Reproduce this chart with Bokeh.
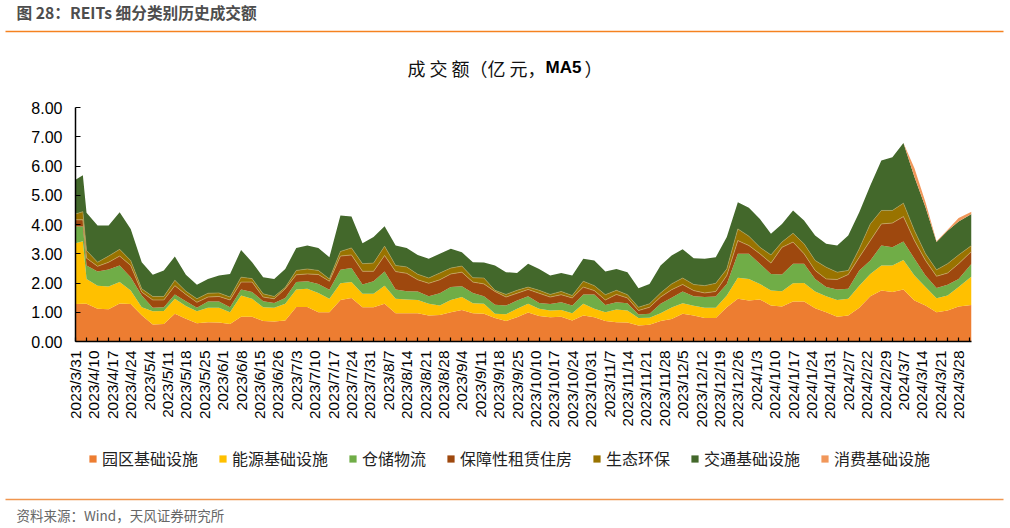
from bokeh.embed import file_html
from bokeh.resources import INLINE
from bokeh.plotting import figure
from bokeh.models import (ColumnDataSource, Range1d, FixedTicker, Label, Legend, LegendItem, NumeralTickFormatter)
import math

# trading-day index of every sample
days = [0, 2] + list(range(3, 241, 3)) + [243.5]

# upper edge of each stacked band (100 million yuan)
top_yuanqu = [1.28,1.29,1.29,1.12,1.10,1.30,1.28,0.90,0.58,0.60,0.95,0.78,0.62,0.66,0.65,0.60,0.85,0.85,0.70,0.68,0.72,1.18,1.18,1.00,1.00,1.42,
 1.49,1.17,1.17,1.29,0.97,0.97,0.97,0.89,0.91,1.00,1.08,0.97,0.95,0.80,0.70,0.83,0.99,0.87,0.83,0.85,0.72,0.89,0.83,0.70,0.66,0.65,0.55,0.57,0.70,0.77,
 0.95,0.89,0.80,0.80,1.17,1.46,1.40,1.44,1.23,1.20,1.37,1.37,1.14,1.00,0.85,0.89,1.15,1.55,1.74,1.69,1.78,1.40,1.23,1.00,1.06,1.20,1.25]
top_nengyuan = [3.36,3.43,2.14,1.91,1.88,2.03,1.74,1.17,1.03,1.04,1.46,1.21,1.03,1.15,1.15,1.00,1.57,1.46,1.17,1.15,1.29,1.78,1.80,1.66,1.46,1.99,
 2.03,1.63,1.63,1.91,1.46,1.44,1.42,1.29,1.23,1.42,1.52,1.31,1.29,0.95,0.93,1.12,1.29,1.12,1.06,1.08,0.97,1.29,1.12,1.00,1.09,1.06,0.80,0.81,0.97,1.16,
 1.31,1.22,1.15,1.15,1.57,2.18,2.14,1.97,1.74,1.72,1.99,2.00,1.71,1.55,1.42,1.46,1.91,2.31,2.60,2.60,2.79,2.26,1.86,1.48,1.57,1.86,2.22]
top_cangchu = [3.93,3.93,2.60,2.39,2.46,2.60,2.20,1.57,1.15,1.17,1.61,1.38,1.15,1.37,1.37,1.17,1.78,1.69,1.38,1.32,1.49,2.03,2.06,1.97,1.77,2.45,
 2.51,1.95,2.06,2.39,1.78,1.72,1.71,1.55,1.65,1.86,1.89,1.66,1.55,1.26,1.23,1.40,1.55,1.32,1.28,1.34,1.23,1.61,1.61,1.25,1.34,1.31,0.92,0.95,1.29,1.50,
 1.71,1.55,1.52,1.54,1.97,3.00,3.00,2.66,2.31,2.29,2.66,2.66,2.14,1.86,1.78,1.80,2.43,2.77,3.28,3.22,3.42,2.83,2.26,1.83,1.94,2.14,2.66]
top_baozhang = [4.16,4.16,2.85,2.57,2.71,2.92,2.60,1.69,1.42,1.42,1.91,1.61,1.34,1.52,1.54,1.42,2.03,2.03,1.52,1.46,1.80,2.28,2.31,2.29,2.06,2.92,
 2.96,2.40,2.40,2.94,2.39,2.33,2.11,1.99,2.11,2.31,2.37,2.03,1.97,1.71,1.52,1.65,1.78,1.65,1.52,1.60,1.49,1.86,1.74,1.42,1.61,1.49,1.06,1.17,1.52,1.77,
 1.95,1.74,1.66,1.71,2.26,3.45,3.28,3.00,2.68,3.22,3.40,3.00,2.43,2.14,2.12,2.29,2.88,3.45,4.02,4.05,4.27,3.45,2.77,2.23,2.34,2.66,3.08]
top_shengtai = [4.36,4.44,3.11,2.71,2.92,3.15,2.77,1.80,1.54,1.54,2.09,1.72,1.46,1.65,1.66,1.52,2.20,2.15,1.63,1.54,1.85,2.43,2.48,2.43,2.14,3.08,
 3.20,2.66,2.68,3.26,2.60,2.55,2.30,2.17,2.34,2.51,2.58,2.18,2.17,1.75,1.61,1.75,1.86,1.75,1.61,1.71,1.57,2.06,1.91,1.60,1.75,1.60,1.17,1.29,1.66,1.97,
 2.17,1.95,1.91,1.99,2.48,3.85,3.60,3.22,2.96,3.40,3.70,3.34,2.77,2.54,2.37,2.43,3.17,4.02,4.48,4.48,4.73,3.79,3.00,2.45,2.66,2.96,3.28]
top_jiaotong = [5.53,5.68,4.40,3.97,3.97,4.42,3.85,2.71,2.28,2.43,2.91,2.28,1.94,2.14,2.26,2.31,3.13,2.71,2.20,2.14,2.48,3.20,3.28,3.20,2.88,4.31,
 4.27,3.36,3.57,3.94,3.28,3.20,2.96,2.83,3.00,3.17,3.05,2.71,2.70,2.60,2.37,2.34,2.66,2.48,2.26,2.34,2.26,2.83,2.77,2.39,2.48,2.37,1.82,1.97,2.60,2.94,
 3.15,2.85,2.83,2.88,3.57,4.76,4.57,4.19,3.68,4.02,4.48,4.14,3.62,3.34,3.28,3.62,4.42,5.33,6.19,6.30,6.79,5.62,4.59,3.40,3.79,4.10,4.36]
top_xiaofei = [5.53,5.68,4.40,3.97,3.97,4.42,3.85,2.71,2.28,2.43,2.91,2.28,1.94,2.14,2.26,2.31,3.13,2.71,2.20,2.14,2.48,3.20,3.28,3.20,2.88,4.31,
 4.27,3.36,3.57,3.94,3.28,3.20,2.96,2.83,3.00,3.17,3.05,2.71,2.70,2.60,2.37,2.34,2.66,2.48,2.26,2.34,2.26,2.83,2.77,2.39,2.48,2.37,1.82,1.97,2.60,2.94,
 3.15,2.85,2.83,2.88,3.57,4.76,4.57,4.19,3.68,4.02,4.48,4.14,3.62,3.34,3.28,3.62,4.42,5.33,6.19,6.30,6.79,5.92,4.76,3.43,3.82,4.22,4.44]

series_names = ["园区基础设施","能源基础设施","仓储物流","保障性租赁住房","生态环保","交通基础设施","消费基础设施"]
series_colors = ["#ed7d31","#ffc000","#70ad47","#9e480e","#997300","#43682b","#f1975a"]
tick_labels = ["2023/3/31","2023/4/10","2023/4/17","2023/4/24","2023/5/4","2023/5/11","2023/5/18","2023/5/25","2023/6/1","2023/6/8",
 "2023/6/15","2023/6/26","2023/7/3","2023/7/10","2023/7/17","2023/7/24","2023/7/31","2023/8/7","2023/8/14","2023/8/21","2023/8/28",
 "2023/9/4","2023/9/11","2023/9/18","2023/9/25","2023/10/10","2023/10/17","2023/10/24","2023/10/31","2023/11/7","2023/11/14",
 "2023/11/21","2023/11/28","2023/12/5","2023/12/12","2023/12/19","2023/12/26","2024/1/3","2024/1/10","2024/1/17","2024/1/24",
 "2024/1/31","2024/2/7","2024/2/22","2024/2/29","2024/3/7","2024/3/14","2024/3/21","2024/3/28"]

W = 1010
Y_MAIN, Y_FOOT, H = 90, 432, 528      # page rows where the three stacked figures start and end
PL, PR, PT, PB = 75, 971, 107, 341    # plot area in page pixels
CJK = "Noto Sans CJK SC"
ARIAL = "Liberation Sans"

def strip(y0, y1):
    """A figure whose data units are page pixels, for texts and rules around the plot."""
    f = figure(width=W, height=y1-y0, output_backend="svg", toolbar_location=None,
               x_range=Range1d(0, W), y_range=Range1d(y1, y0),
               x_axis_location=None, y_axis_location=None,
               min_border_left=0, min_border_right=0, min_border_top=0, min_border_bottom=0)
    f.grid.visible = False
    f.outline_line_color = None
    return f

def text(f, s, left, base, size, color="black", font=CJK, style="normal"):
    f.add_layout(Label(x=left, y=base, text=s, text_font=font, text_font_size=size, text_color=color,
                       text_font_style=style, text_baseline="alphabetic"))

head = strip(0, Y_MAIN)
text(head, "图 28：REITs 细分类别历史成交额", 16, 12, "15.7px", "#4d4d4d", CJK, "bold")
text(head, "成 交 额（亿 元，", 407, 67, "18px", "#111111")
text(head, "MA5", 545, 67, "17px", "black", ARIAL, "bold")
text(head, "）", 584, 67, "18px", "#111111")
head.line([5, 1003], [31, 31], line_color="#f58220", line_width=1.5)

p = figure(width=W, height=Y_FOOT-Y_MAIN, output_backend="svg", toolbar_location=None,
           x_range=Range1d(0, 243.5), y_range=Range1d(0, 8),
           min_border_left=PL, min_border_right=W-PR, min_border_top=PT-Y_MAIN, min_border_bottom=Y_FOOT-PB)
p.grid.visible = False
p.outline_line_color = None

src = ColumnDataSource(dict(x=days, y0=[0.0]*len(days), yuanqu=top_yuanqu, nengyuan=top_nengyuan, cangchu=top_cangchu,
                            baozhang=top_baozhang, shengtai=top_shengtai, jiaotong=top_jiaotong, xiaofei=top_xiaofei))
cols = ["y0","yuanqu","nengyuan","cangchu","baozhang","shengtai","jiaotong","xiaofei"]
for i in range(7):
    p.varea(x="x", y1=cols[i], y2=cols[i+1], source=src, fill_color=series_colors[i])
p.line(x="x", y="baozhang", source=src, line_color="#c8a96a", line_width=0.7)
p.line(x="x", y="shengtai", source=src, line_color="#b8a860", line_width=0.6)

xa, ya = p.xaxis[0], p.yaxis[0]
major = [5*i for i in range(len(tick_labels))]
xa.ticker = FixedTicker(ticks=major, minor_ticks=list(range(0, 244, 3)))
xa.major_label_overrides = {m: t for m, t in zip(major, tick_labels)}
xa.major_label_orientation = math.pi/2
xa.major_tick_in = 0; xa.major_tick_out = 0
xa.minor_tick_in = 4; xa.minor_tick_out = 0
xa.minor_tick_line_color = "black"; xa.minor_tick_line_width = 1.2
xa.axis_line_color = "black"; xa.axis_line_width = 1.5
xa.major_label_text_font = ARIAL; xa.major_label_text_font_size = "15.4px"; xa.major_label_text_color = "black"
xa.major_label_standoff = 9

ya.ticker = FixedTicker(ticks=list(range(0, 9)))
ya.formatter = NumeralTickFormatter(format="0.00")
ya.major_tick_in = 5; ya.major_tick_out = 0; ya.minor_tick_in = 0; ya.minor_tick_out = 0
ya.major_tick_line_color = "black"; ya.major_tick_line_width = 1.2
ya.axis_line_color = "black"; ya.axis_line_width = 1.5
ya.major_label_text_font = ARIAL; ya.major_label_text_font_size = "16px"; ya.major_label_text_color = "black"
ya.major_label_standoff = 13

foot = strip(Y_FOOT, H)
# legend keys: the source is filled from the series, but its x lies left of the strip's range
key_src = ColumnDataSource(dict(x=[d - 1000 for d in days], y0=[0.0]*len(days), y1=top_yuanqu))
keys = [foot.varea(x="x", y1="y0", y2="y1", source=key_src, fill_color=c) for c in series_colors]
foot.add_layout(Legend(items=[LegendItem(label=n, renderers=[k]) for n, k in zip(series_names, keys)],
                orientation="horizontal", location=(88, 58), glyph_width=9, glyph_height=9, label_standoff=5, spacing=20,
                padding=5, margin=0, border_line_color=None, background_fill_alpha=0,
                label_text_font=CJK, label_text_font_size="16px", label_text_color="#222222"))
foot.line([5, 1003], [499, 499], line_color="#f0964f", line_width=1.6)
text(foot, "资料来源：Wind，天风证券研究所", 16, 514, "13.5px", "#666666")

open("out.html", "w").write(file_html([head, p, foot], INLINE))
